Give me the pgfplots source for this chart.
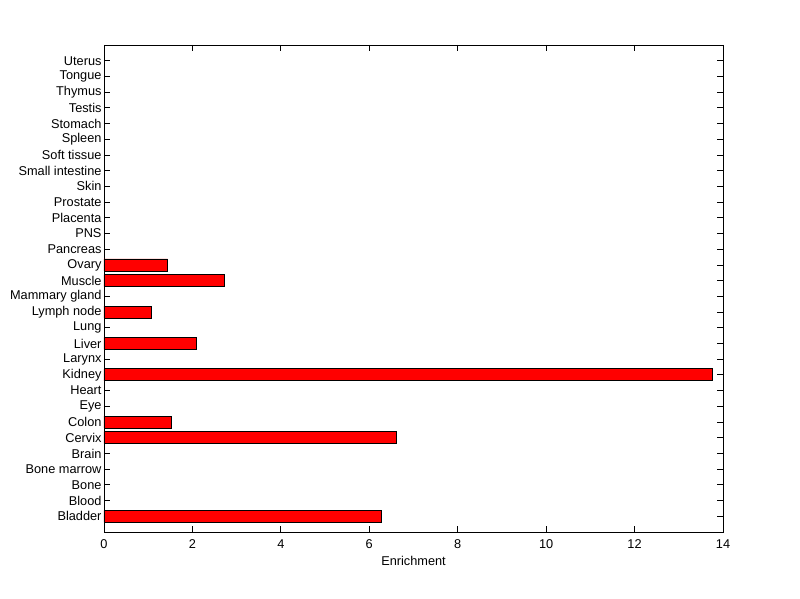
\documentclass[border=0pt]{standalone}
\usepackage{fontspec}
\setmainfont{Liberation Sans}
\usepackage{pgfplots}
\pgfplotsset{compat=1.18}

\begin{document}
\begin{tikzpicture}[x=1bp,y=1bp]
\useasboundingbox (-104,-67) rectangle (696,532);
\fill[white] (-104,-67) rectangle (696,532);
\begin{axis}[
    at={(0,0)}, anchor=south west,
    scale only axis,
    width=619bp, height=487bp,
    xbar,
    bar width=12bp,
    xmin=0, xmax=14,
    ymin=0, ymax=31,
    xtick={0,2,...,14},
    ytick={1,...,30},
    yticklabels={Bladder,Blood,Bone,Bone marrow,Brain,Cervix,Colon,Eye,Heart,Kidney,Larynx,Liver,Lung,Lymph node,Mammary gland,Muscle,Ovary,Pancreas,PNS,Placenta,Prostate,Skin,Small intestine,Soft tissue,Spleen,Stomach,Testis,Thymus,Tongue,Uterus},
    tick align=inside,
    major tick length=6bp,
    tick style={black, line width=0.8bp},
    axis line style={line width=0.8bp},
    xlabel={Enrichment},
    xlabel style={yshift=-1bp},
    tick label style={font=\fontsize{12.8}{14}\selectfont},
    label style={font=\fontsize{12.8}{14}\selectfont},
    /pgf/number format/assume math mode=true,
    yticklabel style={xshift=1bp},
    xticklabel style={yshift=-4bp},
]
\addplot[fill=red, draw=black, line width=0.8bp] coordinates {
    (6.28,1) (6.62,6) (1.53,7) (13.77,10) (2.09,12) (1.07,14) (2.72,16) (1.44,17)
};
\end{axis}
\end{tikzpicture}
\end{document}
